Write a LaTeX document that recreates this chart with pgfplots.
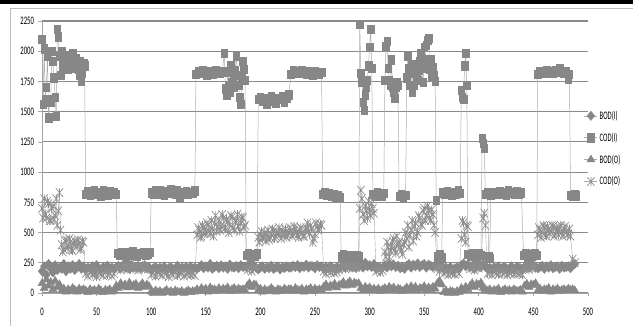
\documentclass[border=0pt]{standalone}
\usepackage{fontspec}
\setmainfont{Carlito}[FakeStretch=0.58]
\usepackage{pgfplots}
\pgfplotsset{compat=1.18}
\usepackage{pgfplotstable}

\definecolor{mk}{HTML}{878787}
\definecolor{mkx}{HTML}{8E8E8E}
\definecolor{ln}{HTML}{ABABAB}
\definecolor{grd}{HTML}{8A8A8A}
\definecolor{axl}{HTML}{A6A6A6}
\definecolor{frm}{HTML}{BDBDBD}

\pgfdeclareplotmark{xstar}{%
  \pgfpathmoveto{\pgfqpoint{-\pgfplotmarksize}{-\pgfplotmarksize}}%
  \pgfpathlineto{\pgfqpoint{\pgfplotmarksize}{\pgfplotmarksize}}%
  \pgfpathmoveto{\pgfqpoint{-\pgfplotmarksize}{\pgfplotmarksize}}%
  \pgfpathlineto{\pgfqpoint{\pgfplotmarksize}{-\pgfplotmarksize}}%
  \pgfpathmoveto{\pgfqpoint{0pt}{-\pgfplotmarksize}}%
  \pgfpathlineto{\pgfqpoint{0pt}{\pgfplotmarksize}}%
  \pgfusepathqstroke}

\pgfplotstableread{
x y
0 2100
1 1560
2 2020
3 1600
4 1700
5 1960
6 1450
7 1600
8 1580
9 2000
10 1920
11 1780
12 1620
13 1460
14 2180
15 2120
16 1960
17 1800
18 2000
19 1880
20 1950
21 1860
22 1930
23 1900
24 1850
25 1960
26 1880
27 1920
28 1980
29 1860
30 1900
31 1940
32 1880
33 1850
34 1800
35 1920
36 1750
37 1820
38 1900
39 1880
40 820
42 840
44 810
46 830
48 850
50 815
52 835
54 800
56 845
58 825
60 810
62 840
64 820
66 830
68 815
69 330
71 310
73 340
75 320
77 300
79 335
81 315
83 345
85 325
87 305
89 330
91 320
93 340
95 310
97 325
99 335
100 830
102 815
104 845
106 820
108 850
110 830
112 810
114 840
116 825
118 860
120 835
122 815
124 845
126 790
128 830
130 820
132 840
134 815
136 835
138 825
140 845
141 1810
143 1830
145 1815
147 1840
149 1820
151 1805
153 1835
155 1820
157 1810
159 1840
161 1825
163 1815
165 1830
167 1980
168 1690
169 1640
170 1830
171 1720
172 1660
173 1880
174 1740
175 1780
176 1700
177 1840
178 1960
179 1800
180 1720
181 1620
182 1560
183 1780
184 1920
185 1850
186 1760
187 310
189 330
191 295
193 320
195 305
197 325
198 1600
200 1620
202 1590
204 1610
206 1560
208 1600
210 1630
212 1590
214 1570
216 1610
218 1600
220 1630
222 1580
224 1610
226 1640
228 1810
230 1840
232 1820
234 1830
236 1815
238 1840
240 1825
242 1810
244 1835
246 1820
248 1805
250 1830
252 1820
254 1810
256 1825
257 820
259 830
261 810
263 825
265 800
267 815
269 790
271 805
273 795
274 300
276 320
278 310
280 295
282 315
284 305
286 290
288 310
290 300
291 2220
292 1820
293 1740
294 1580
295 1510
296 1640
297 1700
298 1760
299 1880
300 2030
301 2180
302 1860
303 820
305 805
307 830
309 815
311 800
313 825
314 1760
315 2040
316 2080
317 1860
318 1760
319 1720
320 1930
321 1700
322 1660
323 1610
324 1700
325 1740
326 1720
327 800
329 820
331 795
333 810
334 1780
335 1960
336 1860
337 1720
338 1890
339 1660
340 1820
341 1720
342 1890
343 1780
344 1760
345 1840
346 1920
347 1980
348 1860
349 1740
350 2030
351 1930
352 2050
353 2090
354 2110
355 1850
356 1930
357 1790
358 1870
359 1800
360 1750
361 770
362 300
364 320
366 295
367 830
369 815
371 840
373 825
375 810
377 835
379 820
381 845
383 825
384 1680
385 1620
386 1600
387 1880
388 1980
389 1720
390 320
392 305
394 330
396 315
398 300
400 325
402 310
403 1280
404 1240
405 1200
406 820
408 830
409 300
410 290
411 810
413 825
415 835
417 815
419 840
421 820
423 830
425 810
427 845
429 825
431 835
433 815
435 840
437 820
439 830
441 310
443 330
445 300
447 320
449 305
451 325
453 315
454 1810
456 1830
458 1815
460 1825
462 1840
464 1820
466 1830
468 1815
470 1845
472 1825
474 1860
476 1835
478 1820
480 1830
482 1770
483 1810
484 810
486 800
488 820
489 805
}\codi

\pgfplotstableread{
x y
0 700
1 620
2 780
3 650
4 620
5 760
6 740
7 600
8 600
9 700
10 720
11 610
12 640
13 780
14 560
15 680
16 830
17 520
18 400
19 340
20 360
21 430
22 440
23 370
24 380
25 450
26 420
27 360
28 350
29 410
30 430
31 380
32 390
33 440
34 410
35 360
36 370
37 430
38 420
40 160
42 140
44 175
46 150
48 165
50 135
52 170
54 155
56 145
58 180
60 150
62 165
64 140
66 160
68 200
70 215
72 190
74 210
76 220
78 195
80 205
82 215
84 200
86 210
88 190
90 220
92 205
94 195
96 215
98 200
100 150
102 165
104 140
106 175
108 155
110 145
112 170
114 160
116 135
118 165
120 150
122 175
124 145
126 160
128 170
130 140
132 155
134 165
136 150
138 160
140 145
142 480
143 540
144 520
145 460
146 470
147 560
148 540
149 490
150 500
151 580
152 560
153 510
154 490
155 600
156 530
157 470
158 580
159 640
160 510
161 550
162 600
163 520
164 550
165 650
166 620
167 530
168 540
169 610
170 590
171 500
172 560
173 640
174 630
175 540
176 520
177 590
178 600
179 650
180 550
181 510
182 580
183 630
184 620
185 540
186 560
188 190
190 205
192 180
194 200
196 210
198 460
199 420
200 480
201 510
202 450
203 470
204 500
205 430
206 470
207 520
208 440
209 460
210 490
211 530
212 510
213 450
214 470
215 500
216 500
217 540
218 480
219 450
220 520
221 490
222 490
223 530
224 460
225 480
226 500
227 540
228 510
229 470
230 490
231 550
232 530
233 500
234 480
235 460
236 520
237 540
238 500
239 470
240 470
241 520
242 540
243 580
244 510
245 490
246 560
247 530
248 420
249 450
250 490
251 580
252 550
253 520
254 530
255 570
256 560
258 180
260 160
262 190
264 170
266 185
268 165
270 175
272 190
274 210
276 220
278 200
280 215
282 225
284 205
286 220
288 210
290 215
291 700
292 850
293 780
294 650
295 600
296 720
297 680
298 620
299 760
300 690
301 640
302 740
303 700
304 660
306 180
308 195
310 170
312 185
314 340
315 300
316 420
317 380
318 300
319 350
320 380
321 430
322 450
323 360
324 330
325 470
326 400
327 420
328 380
329 350
330 320
331 400
332 420
333 500
334 450
335 560
336 380
337 480
338 520
339 600
340 430
341 550
342 580
343 470
344 500
345 640
346 620
347 570
348 560
349 680
350 700
351 600
352 640
353 720
354 680
355 620
356 600
357 690
358 650
359 560
360 500
362 200
364 180
366 210
368 160
370 175
372 150
374 170
376 165
378 155
380 180
382 160
384 450
385 600
386 580
387 480
388 420
389 560
390 550
392 200
394 215
396 190
398 210
400 205
402 220
404 620
405 660
406 560
408 160
410 170
412 150
414 175
416 165
418 155
420 180
422 160
424 170
426 150
428 165
430 175
432 155
434 170
436 160
438 165
440 150
442 200
444 215
446 195
448 210
450 220
452 205
454 480
455 540
456 520
457 460
458 500
459 560
460 540
461 480
462 470
463 550
464 530
465 490
466 510
467 560
468 550
469 470
470 490
471 540
472 520
473 480
474 540
475 560
476 500
477 470
478 530
479 550
480 510
481 480
482 490
483 530
484 470
486 280
488 250
}\codo

\pgfplotstableread{
x bodi bodo
0 180 80
2 220 40
4 150 110
6 240 60
8 200 90
10 170 30
12 230 100
14 190 50
16 210 70
18 200 20
20 240 35
22 180 10
24 220 30
26 200 15
28 230 40
30 190 25
32 210 10
34 240 35
36 200 20
38 220 30
40 190 20
42 210 5
44 200 30
46 220 15
48 180 25
50 230 10
52 200 35
54 190 20
56 215 5
58 205 25
60 225 15
62 195 30
64 210 10
66 200 20
68 215 60
70 225 40
72 205 80
74 230 55
76 210 70
78 220 45
80 200 85
82 235 50
84 215 65
86 210 75
88 225 40
90 205 60
92 220 80
94 230 50
96 210 70
98 215 55
100 190 10
102 205 0
104 215 20
106 195 5
108 210 15
110 200 0
112 220 10
114 185 25
116 205 5
118 215 15
120 195 0
122 200 20
124 225 10
126 190 5
128 210 15
130 205 0
132 215 10
134 195 20
136 220 5
138 200 15
140 210 10
142 200 30
144 215 15
146 230 40
148 205 20
150 220 35
152 210 10
154 240 45
156 200 25
158 215 30
160 225 15
162 205 40
164 230 20
166 210 35
168 220 25
170 200 45
172 235 15
174 215 30
176 210 40
178 225 20
180 205 35
182 230 25
184 215 30
186 220 20
188 220 60
190 230 80
192 215 50
194 225 70
196 210 65
198 195 20
200 210 35
202 220 10
204 200 30
206 215 15
208 205 25
210 225 40
212 200 20
214 210 10
216 220 30
218 195 25
220 215 15
222 205 35
224 220 20
226 210 30
228 210 30
230 225 15
232 215 40
234 230 25
236 205 20
238 220 35
240 215 10
242 235 30
244 210 25
246 225 40
248 220 15
250 205 35
252 230 20
254 215 30
256 220 25
258 200 50
260 215 70
262 205 40
264 220 60
266 210 55
268 200 75
270 215 45
272 205 65
274 215 70
276 225 90
278 210 60
280 230 80
282 220 95
284 215 65
286 225 85
288 210 75
290 220 80
292 240 40
294 210 20
296 250 50
298 220 30
300 230 45
302 215 25
304 240 35
306 200 20
308 215 35
310 205 15
312 210 30
314 230 40
316 210 25
318 245 50
320 220 30
322 235 45
324 215 20
326 225 35
328 205 30
330 215 15
332 200 25
334 225 45
336 240 25
338 210 55
340 235 30
342 220 50
344 245 20
346 215 40
348 230 35
350 240 55
352 210 25
354 235 45
356 225 30
358 215 50
360 230 35
362 220 80
364 210 100
366 225 70
368 195 5
370 210 20
372 200 0
374 215 15
376 190 10
378 205 0
380 210 15
382 200 5
384 230 40
386 245 20
388 220 50
390 235 30
392 215 60
394 225 80
396 210 50
398 220 75
400 230 65
402 215 85
404 240 40
406 225 30
408 200 15
410 210 30
412 195 10
414 215 25
416 205 20
418 220 35
420 200 5
422 210 20
424 215 30
426 195 15
428 205 25
430 220 10
432 200 30
434 210 20
436 215 15
438 205 25
440 200 10
442 215 60
444 225 75
446 210 50
448 220 70
450 230 65
452 215 80
454 205 20
456 215 35
458 225 15
460 200 30
462 220 25
464 210 40
466 230 10
468 205 30
470 215 20
472 220 35
474 200 15
476 225 25
478 210 30
480 215 20
482 220 35
484 205 25
486 230 30
488 240 20
}\bands

\begin{document}
\begin{tikzpicture}
\useasboundingbox (0pt,0pt) rectangle (633pt,326pt);
\fill[black] (0pt,321.5pt) rectangle (633pt,326pt);
\draw[frm, line width=0.8pt] (10pt,0pt) -- (10pt,318pt) -- (633pt,318pt);
\begin{axis}[
  at={(42pt,33pt)}, anchor=south west,
  scale only axis, width=546pt, height=272pt,
  xmin=0, xmax=500, ymin=0, ymax=2250,
  xtick={0,50,...,500}, ytick={0,250,...,2250},
  axis x line*=bottom, axis y line*=left,
  axis line style={-, draw=axl, line width=0.8pt},
  ymajorgrids, major grid style={draw=grd, line width=1.1pt},
  tick align=outside, major tick length=3.5pt,
  tick style={draw=axl, line width=0.7pt},
  tick label style={font=\fontsize{11.5}{13}\selectfont},
  xticklabel style={yshift=-8pt},
  yticklabel style={xshift=-1pt},
  /pgf/number format/assume math mode=true,
  /pgf/number format/1000 sep={},
  scaled ticks=false,
  clip=false,
  legend style={at={(axis description cs:0.993,0.677)}, anchor=north west, draw=none, fill=none,
    font=\fontsize{11.5}{12}\selectfont, row sep=8pt, inner sep=0pt, outer sep=0pt,
    /tikz/every even column/.append style={column sep=1pt}},
  legend cell align=left,
  legend image code/.code={\draw[mark repeat=2,mark phase=2,#1] plot coordinates {(0pt,0pt) (6.5pt,0pt) (13pt,0pt)};},
]
\addplot[draw=ln, line width=0.5pt, mark=diamond*, mark size=4.6pt,
  mark options={draw=mk, fill=mk, xscale=1.1, solid}] table[x=x,y=bodi]{\bands};
\addlegendentry{BOD(I)}
\addplot[draw=ln, line width=0.5pt, mark=square*, mark size=4.1pt,
  mark options={draw=mk, fill=mk, xscale=0.8, solid}] table[x=x,y=y]{\codi};
\addlegendentry{COD(I)}
\addplot[draw=ln, line width=0.5pt, mark=triangle*, mark size=4.6pt,
  mark options={draw=mk, fill=mk, xscale=1.0, solid}] table[x=x,y=bodo]{\bands};
\addlegendentry{BOD(O)}
\addplot[draw=ln, line width=0.4pt, mark=xstar, mark size=4.3pt,
  mark options={draw=mkx, line width=0.7pt, xscale=0.85, solid}] table[x=x,y=y]{\codo};
\addlegendentry{COD(O)}
\end{axis}
\end{tikzpicture}
\end{document}
